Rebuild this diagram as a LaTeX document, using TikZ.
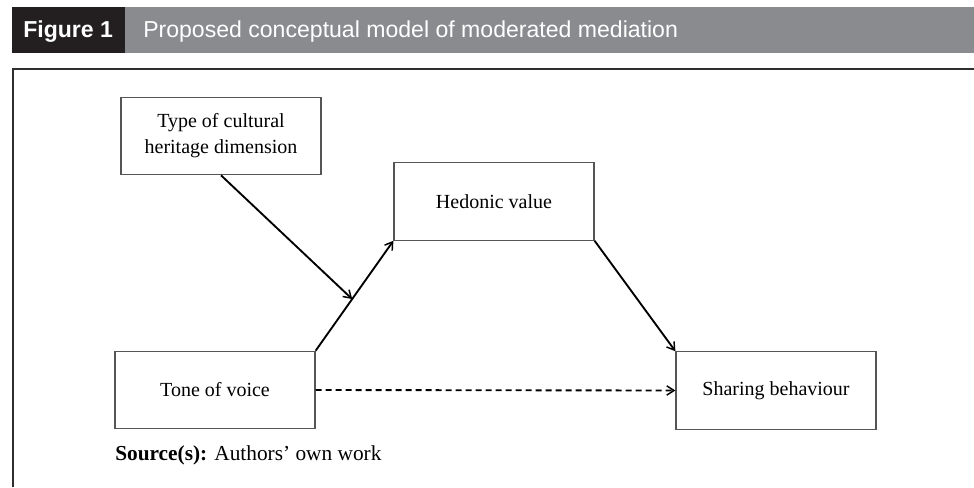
\documentclass[tikz,border=0pt]{standalone}
\usepackage{fontspec}
\setmainfont{Liberation Serif}
\newfontfamily\hdrfont{Liberation Sans}
\usetikzlibrary{arrows.meta,calc}
\definecolor{bargray}{HTML}{8A8B8F}
\definecolor{barblack}{HTML}{231F20}
\definecolor{framecol}{HTML}{2E2E2E}
\definecolor{boxline}{HTML}{555555}
\tikzset{
  mbox/.style={draw=boxline, line width=0.9pt, rectangle, minimum width=150pt, minimum height=58pt, inner sep=0pt, align=center, font=\fontsize{15}{19.5}\selectfont},
  marrow/.style={line width=1.4pt, -{Straight Barb[length=5.5pt,width=7pt,line width=1.1pt]}},
  hdr/.style={inner sep=0pt, font=\hdrfont\fontsize{17.3}{20}\selectfont, text=white}
}
\begin{document}
\begin{tikzpicture}[x=0.75pt,y=-0.75pt]
\useasboundingbox (0,0) rectangle (974,487);
% header
\fill[bargray] (125,7) rectangle (974,53);
\fill[barblack] (12,7) rectangle (125,53);
\node[hdr, anchor=base west, font=\hdrfont\bfseries\fontsize{17.3}{20}\selectfont] (figlab) at (23,37) {Figure 1};
\node[hdr, anchor=base west] (title) at (143,37) {Proposed conceptual model of moderated mediation};
% frame
\draw[framecol, line width=2pt] (13,487) -- (13,69) -- (974,69);
% boxes
\node[mbox] (type) at (221,136) {Type of cultural\\heritage dimension};
\node[mbox] (hed) at (494,201.5) {Hedonic value};
\node[mbox] (tone) at (215,390) {Tone of voice};
\node[mbox] (share) at (776,390.5) {Sharing behaviour};
% arrows
\draw[marrow] (tone.north east) -- (hed.south west);
\coordinate (mid) at ($(tone.north east)!0.47!(hed.south west)$);
\draw[marrow] (hed.south east) -- (share.north west);
\draw[marrow] (type.south) -- (mid);
\draw[marrow, dash pattern=on 4.5pt off 3pt] (tone.east) -- (share.west);
% source
\node[anchor=west, inner sep=0pt, font=\fontsize{16}{19}\selectfont] (src) at (115,455) {\textbf{Source(s):} Authors' own work};
\end{tikzpicture}
\end{document}
